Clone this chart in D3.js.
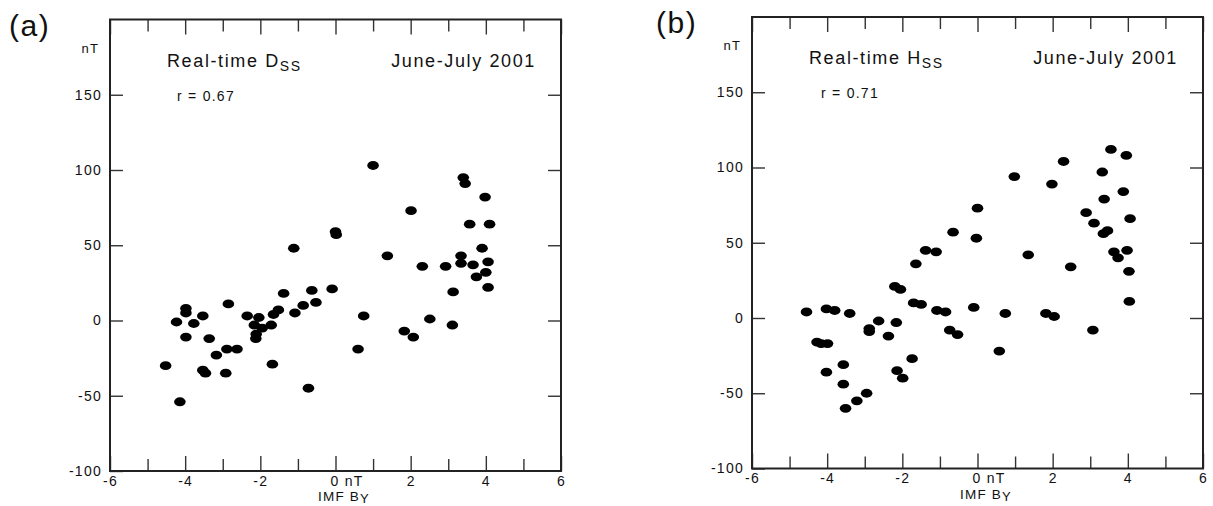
<!DOCTYPE html>
<html>
<head>
<meta charset="utf-8">
<script src="https://cdn.jsdelivr.net/npm/d3@7"></script>
<style>
  body { margin: 0; background: #fff; }
  text { font-family: Arial, "Liberation Sans", sans-serif; fill: #111; letter-spacing: 0.09em; }
</style>
</head>
<body>
<svg id="chart" width="1213" height="506"></svg>
<script>
// IMF By (nT) and real-time Dss (nT), panel (a)
const dssBy = [-4.52, -4.23, -4.14, -3.98, -3.98, -3.98, -3.77, -3.53, -3.53, -3.46,
  -3.36, -3.17, -2.92, -2.89, -2.85, -2.62, -2.35, -2.16, -2.12, -2.11,
  -2.04, -1.95, -1.71, -1.68, -1.65, -1.52, -1.38, -1.11, -1.08, -0.86,
  -0.72, -0.63, -0.52, -0.09, 0.0, 0.02, 0.60, 0.75, 1.0, 1.38,
  1.83, 2.01, 2.07, 2.31, 2.51, 2.93, 3.11, 3.13, 3.34, 3.34,
  3.40, 3.45, 3.57, 3.66, 3.75, 3.90, 3.98, 4.0, 4.06, 4.06, 4.10];
const dssVal = [-30, -1, -54, 8, 5, -11, -2, 3, -33, -35,
  -12, -23, -35, -19, 11, -19, 3, -3, -12, -9,
  2, -5, -3, -29, 4, 7, 18, 48, 5, 10,
  -45, 20, 12, 21, 59, 57, -19, 3, 103, 43,
  -7, 73, -11, 36, 1, 36, -3, 19, 43, 38,
  95, 91, 64, 37, 29, 48, 82, 32, 39, 22, 64];

// IMF By (nT) and real-time Hss (nT), panel (b)
const hssBy = [-4.55, -4.27, -4.16, -4.02, -4.02, -3.99, -3.80, -3.57, -3.57, -3.51,
  -3.40, -3.21, -2.95, -2.88, -2.88, -2.63, -2.37, -2.20, -2.16, -2.14,
  -2.05, -1.99, -1.74, -1.70, -1.64, -1.50, -1.38, -1.10, -1.08, -0.85,
  -0.74, -0.65, -0.53, -0.03, 0.0, -0.10, 0.58, 0.74, 0.98, 1.35,
  1.82, 1.98, 2.04, 2.29, 2.48, 2.89, 3.07, 3.10, 3.32, 3.35,
  3.37, 3.46, 3.55, 3.63, 3.74, 3.88, 3.96, 3.98, 4.03, 4.04, 4.06];
const hssVal = [4, -16, -17, 6, -36, -17, 5, -31, -44, -60,
  3, -55, -50, -7, -9, -2, -12, 21, -3, -35,
  19, -40, -27, 10, 36, 9, 45, 44, 5, 4,
  -8, 57, -11, 53, 73, 7, -22, 3, 94, 42,
  3, 89, 1, 104, 34, 70, -8, 63, 97, 56,
  79, 58, 112, 44, 40, 84, 108, 45, 31, 11, 66];

const xMajor = [-6, -4, -2, 0, 2, 4, 6];
const xMinor = [-5, -3, -1, 1, 3, 5];
const yTicks = [-100, -50, 0, 50, 100, 150];

const svg = d3.select("#chart");

function drawPanel(cfg) {
  const g = svg.append("g");
  const x = d3.scaleLinear().domain([-6, 6]).range([cfg.left, cfg.right]);
  const y = d3.scaleLinear().domain([-100, 200]).range([cfg.bottom, cfg.top]);

  // bottom axis, labelled major ticks and shorter minor ones
  const bx = g.append("g")
    .attr("transform", "translate(0," + cfg.bottom + ")")
    .call(d3.axisBottom(x).tickValues(xMajor).tickSize(-15).tickPadding(5)
      .tickFormat(d => d === 0 ? "0 nT" : String(d)));
  bx.selectAll(".tick text").filter(d => d === 0)
    .attr("text-anchor", "start").attr("x", -5.5);
  g.append("g")
    .attr("transform", "translate(0," + cfg.bottom + ")")
    .call(d3.axisBottom(x).tickValues(xMinor).tickSize(-12).tickFormat(""));

  // top axis, ticks only
  g.append("g")
    .attr("transform", "translate(0," + cfg.top + ")")
    .call(d3.axisTop(x).tickValues(xMajor).tickSize(-15).tickFormat(""));
  g.append("g")
    .attr("transform", "translate(0," + cfg.top + ")")
    .call(d3.axisTop(x).tickValues(xMinor).tickSize(-12).tickFormat(""));

  // left and right axes
  g.append("g")
    .attr("transform", "translate(" + cfg.left + ",0)")
    .call(d3.axisLeft(y).tickValues(yTicks).tickSize(-13).tickPadding(8)
      .tickFormat(d => String(d)));
  g.append("g")
    .attr("transform", "translate(" + cfg.right + ",0)")
    .call(d3.axisRight(y).tickValues(yTicks.slice(1)).tickSize(-13).tickFormat(""));

  g.selectAll(".domain").remove();
  g.selectAll(".tick line").attr("stroke", "#333").attr("stroke-width", 1.4);
  g.selectAll(".tick text")
    .attr("font-size", 14)
    .attr("font-family", "Arial, 'Liberation Sans', sans-serif")
    .attr("fill", "#111");

  g.append("rect")
    .attr("x", cfg.left).attr("y", cfg.top)
    .attr("width", cfg.right - cfg.left).attr("height", cfg.bottom - cfg.top)
    .attr("fill", "none").attr("stroke", "#222").attr("stroke-width", 2);

  // data points
  g.append("g").selectAll("ellipse")
    .data(d3.zip(cfg.xs, cfg.ys))
    .join("ellipse")
    .attr("cx", d => x(d[0]))
    .attr("cy", d => y(d[1]))
    .attr("rx", 5.8)
    .attr("ry", 4.4)
    .attr("fill", "#000");

  // labels
  g.append("text")
    .attr("x", cfg.labelX).attr("y", cfg.top + 16)
    .attr("font-size", 30)
    .style("letter-spacing", "0.05em")
    .text(cfg.label);

  g.append("text")
    .attr("x", cfg.left - 11).attr("y", cfg.top + 33)
    .attr("text-anchor", "end").attr("font-size", 13)
    .text("nT");

  const title = g.append("text")
    .attr("x", cfg.left + 57).attr("y", cfg.top + 47)
    .attr("font-size", 18);
  title.append("tspan").text("Real-time " + cfg.sym);
  title.append("tspan").attr("dy", 4).attr("font-size", 14).text("SS");

  g.append("text")
    .attr("x", cfg.right - 25).attr("y", cfg.top + 47)
    .attr("text-anchor", "end").attr("font-size", 18)
    .text("June-July 2001");

  g.append("text")
    .attr("x", cfg.left + cfg.rX).attr("y", cfg.top + 81)
    .attr("font-size", 14)
    .text(cfg.r);

  const xl = g.append("text")
    .attr("x", x(0) - 17.5).attr("y", cfg.bottom + 30)
    .attr("font-size", 13.5);
  xl.append("tspan").text("IMF B");
  xl.append("tspan").attr("dy", 2).attr("font-size", 13).text("Y");
}

drawPanel({left: 110, right: 561, top: 19.5, bottom: 471, xs: dssBy, ys: dssVal,
  label: "(a)", labelX: 9, sym: "D", r: "r = 0.67", rX: 67});
drawPanel({left: 752, right: 1203, top: 17, bottom: 468.5, xs: hssBy, ys: hssVal,
  label: "(b)", labelX: 656, sym: "H", r: "r = 0.71", rX: 69});
</script>
</body>
</html>
